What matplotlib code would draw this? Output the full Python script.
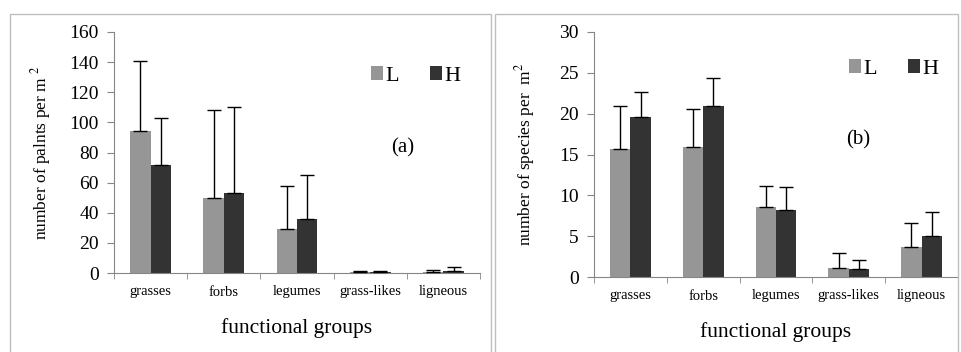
import numpy as np
import matplotlib.pyplot as plt
from matplotlib.patches import Rectangle

plt.rcParams['font.family'] = ['Liberation Serif', 'DejaVu Serif']
plt.rcParams['mathtext.fontset'] = 'stix'

groups = ['grasses', 'forbs', 'legumes', 'grass-likes', 'ligneous']

# (a) number of plants per m2
plants_L = [94, 50, 29, 0.5, 0.5]
plants_H = [72, 53, 36, 0.5, 1.5]
plants_L_err = [47, 58, 29, 0.5, 1.5]
plants_H_err = [31, 57, 29, 0.5, 2.5]

# (b) number of species per m2
species_L = [15.7, 15.9, 8.6, 1.1, 3.7]
species_H = [19.6, 20.9, 8.2, 0.95, 5.0]
species_L_err = [5.3, 4.7, 2.5, 1.9, 2.9]
species_H_err = [3.0, 3.5, 2.8, 1.15, 3.0]

col_L = '#969696'
col_H = '#333333'
axis_col = '#868686'

W, H = 961, 352
fig = plt.figure(figsize=(W / 100, H / 100), dpi=100)

# panel frames
for x0, x1 in [(10, 491), (495, 958)]:
    fig.patches.append(Rectangle((x0 / W, -0.1), (x1 - x0) / W, 1.1 - 14 / H,
                                 transform=fig.transFigure, fill=False,
                                 edgecolor='#bfbfbf', lw=1))


def panel(rect, vL, vH, eL, eH, ymax, ystep, ylabel, ylpad, tag, tag_xy, leg_y):
    ax = fig.add_axes(rect)
    x = np.arange(len(groups))
    w = 0.28
    ax.bar(x - w / 2, vL, w, color=col_L, label='L', zorder=2)
    ax.bar(x + w / 2, vH, w, color=col_H, label='H', zorder=2)
    ax.errorbar(x - w / 2, vL, yerr=[np.zeros(len(vL)), eL], fmt='none',
                ecolor='black', elinewidth=1, capsize=5, capthick=1, zorder=3)
    ax.errorbar(x + w / 2, vH, yerr=[np.zeros(len(vH)), eH], fmt='none',
                ecolor='black', elinewidth=1, capsize=5, capthick=1, zorder=3)
    ax.set_xlim(-0.5, len(groups) - 0.5)
    ax.set_ylim(0, ymax)
    ax.set_yticks(np.arange(0, ymax + 1, ystep))
    ax.tick_params(axis='y', labelsize=14, length=5, color=axis_col, pad=6)
    ax.set_xticks(x)
    ax.set_xticklabels(groups, fontsize=10.5)
    ax.tick_params(axis='x', which='major', length=0, pad=9)
    ax.set_xticks(np.arange(-0.5, len(groups), 1.0), minor=True)
    ax.tick_params(axis='x', which='minor', length=4, color=axis_col)
    for s in ['top', 'right']:
        ax.spines[s].set_visible(False)
    for s in ['left', 'bottom']:
        ax.spines[s].set_color(axis_col)
    ax.set_ylabel(ylabel, fontsize=12.5, labelpad=ylpad)
    ax.set_xlabel('functional groups', fontsize=15.5, labelpad=14)
    ax.text(tag_xy[0], tag_xy[1], tag, transform=ax.transAxes, fontsize=15,
            ha='center', va='center')
    ax.legend(loc='upper right', bbox_to_anchor=(1.0, leg_y), ncol=2,
              frameon=False, fontsize=16, handlelength=0.55, handleheight=0.55,
              handletextpad=0.1, columnspacing=1.4)
    return ax


panel([114 / W, 79 / H, 366 / W, 241 / H], plants_L, plants_H,
      plants_L_err, plants_H_err, 160, 20,
      r'number of palnts per m $^{2}$', 12, '(a)', (0.79, 0.52), 0.94)
panel([594 / W, 75 / H, 364 / W, 245 / H], species_L, species_H,
      species_L_err, species_H_err, 30, 5,
      r'number of species per  m$^{2}$', 16, '(b)', (0.725, 0.56), 0.97)

fig.savefig('out.png', dpi=100)
